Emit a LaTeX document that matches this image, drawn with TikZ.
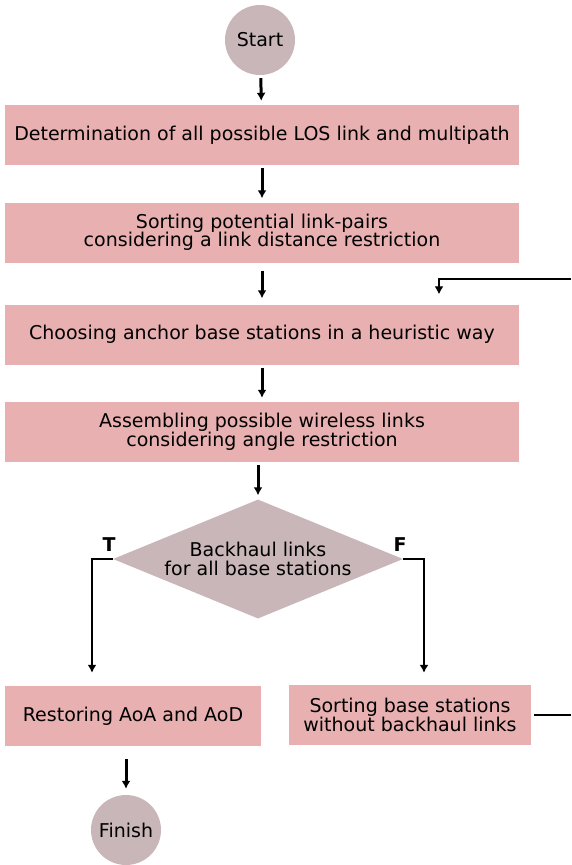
\documentclass[tikz,border=0pt]{standalone}
\usepackage{fontspec}
\setmainfont{DejaVu Sans}
\usepackage{xcolor}
\usetikzlibrary{arrows.meta}
\usetikzlibrary{shapes}
\definecolor{boxpink}{RGB}{232,176,176}
\definecolor{termgray}{RGB}{200,182,184}
\begin{document}
\begin{tikzpicture}[x=1pt,y=-1pt,>={Latex[length=8pt,width=9pt]},
	font=\fontsize{19}{18.5}\selectfont,
	stepbox/.style={rectangle, fill=boxpink, inner sep=0pt, align=center, minimum width=514pt, minimum height=60pt},
	term/.style={circle, fill=termgray, inner sep=0pt, minimum size=70pt},
	decide/.style={diamond, fill=termgray, inner sep=0pt, align=center, shape aspect=2.44, minimum width=290pt, minimum height=119pt},
	flow/.style={->, line width=3pt, shorten <=3pt, shorten >=4pt},
	branch/.style={->, line width=2.2pt}]
	\useasboundingbox (0,0) rectangle (571,865);
	\node[term] (start) at (260, 40) {Start};
	\node[stepbox] (los) at (262, 135) {Determination of all possible LOS link and multipath};
	\node[stepbox] (pairs) at (262, 232.5) {Sorting potential link-pairs\\considering a link distance restriction};
	\node[stepbox] (anchor) at (262, 334.5) {Choosing anchor base stations in a heuristic way};
	\node[stepbox] (assemble) at (262, 432) {Assembling possible wireless links\\considering angle restriction};
	\node[decide] (backhaul) at (258, 559) {Backhaul links\\for all base stations};
	\node[stepbox, minimum width=255.5pt] (restore) at (133, 716) {Restoring AoA and AoD};
	\node[stepbox, minimum width=241.5pt] (sortbs) at (410, 715) {Sorting base stations\\without backhaul links};
	\node[term] (finish) at (126, 830) {Finish};
	\node[font=\fontsize{19}{19}\selectfont\bfseries] (t) at (109, 545) {T};
	\node[font=\fontsize{19}{19}\selectfont\bfseries] (f) at (400, 545) {F};
	\coordinate (fbin) at (571, 279);
	\draw[flow] (start) -- (los);
	\draw[flow] (los) -- (pairs);
	\draw[flow, shorten <=8pt, shorten >=6pt] (pairs) -- (anchor);
	\draw[flow] (anchor) -- (assemble);
	\draw[flow] (assemble.south -| backhaul.north) -- (backhaul.north);
	\draw[branch, shorten >=13pt] (backhaul.west) -| ([xshift=-41pt]restore.north);
	\draw[branch, shorten >=12pt] (backhaul.east) -| ([xshift=14pt]sortbs.north);
	\draw[flow, shorten <=13pt, shorten >=6pt] (restore.south -| finish.north) -- (finish.north);
	\draw[line width=1.3pt, shorten <=3pt] (sortbs.east) -- (sortbs.east -| fbin);
	\draw[->, line width=1.3pt, shorten >=10pt] (fbin) -| ([xshift=177pt]anchor.north);
\end{tikzpicture}
\end{document}
